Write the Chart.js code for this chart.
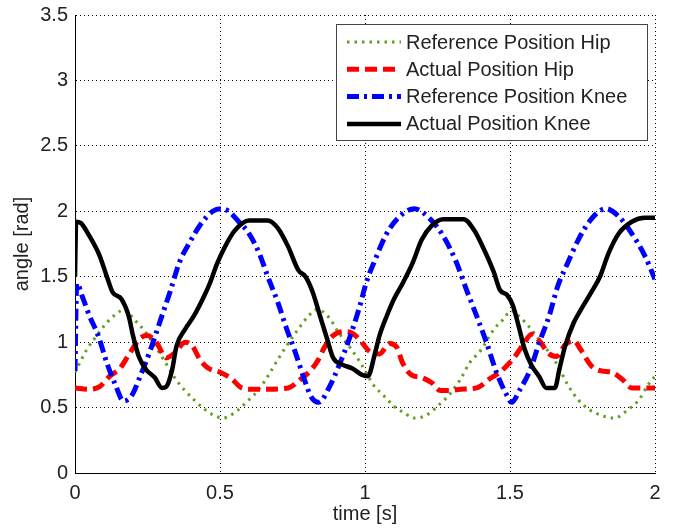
<!DOCTYPE html>
<html>
<head>
<meta charset="utf-8">
<script src="https://cdn.jsdelivr.net/npm/chart.js@4/dist/chart.umd.min.js"></script>
<style>
  html, body { margin: 0; padding: 0; background: #fff; }
  #wrap { width: 673px; height: 529px; }
</style>
</head>
<body>
<div id="wrap"><canvas id="chart-angles"></canvas></div>
<script>
// values
const xTicks = [0, 0.5, 1, 1.5, 2];
const yTicks = [0, 0.5, 1, 1.5, 2, 2.5, 3, 3.5];

const seriesNames = ['Reference Position Hip', 'Actual Position Hip', 'Reference Position Knee', 'Actual Position Knee'];

const tRefHip = [0, 0.04, 0.075, 0.11, 0.145, 0.17, 0.205, 0.235, 0.27, 0.305, 0.34, 0.375, 0.41, 0.445, 0.48, 0.51, 0.55, 0.6, 0.635, 0.665, 0.7, 0.735, 0.77, 0.805, 0.835, 0.875, 0.91, 0.945, 0.985, 1.03, 1.065, 1.1, 1.135, 1.17, 1.21, 1.26, 1.295, 1.33, 1.36, 1.4, 1.445, 1.475, 1.505, 1.53, 1.565, 1.6, 1.635, 1.665, 1.7, 1.735, 1.77, 1.815, 1.86, 1.91, 1.945, 1.975, 2.0];
const refHip = [0.77, 0.94, 1.05, 1.15, 1.22, 1.25, 1.17, 1.10, 0.99, 0.87, 0.74, 0.64, 0.56, 0.49, 0.44, 0.42, 0.46, 0.56, 0.64, 0.74, 0.87, 0.99, 1.10, 1.20, 1.25, 1.19, 1.07, 0.97, 0.84, 0.67, 0.59, 0.51, 0.46, 0.42, 0.44, 0.53, 0.61, 0.72, 0.84, 0.94, 1.10, 1.17, 1.24, 1.20, 1.12, 1.02, 0.92, 0.82, 0.67, 0.56, 0.49, 0.44, 0.42, 0.49, 0.56, 0.67, 0.74];

const tActHip = [0, 0.05, 0.085, 0.12, 0.155, 0.19, 0.225, 0.25, 0.28, 0.315, 0.345, 0.38, 0.405, 0.43, 0.46, 0.5, 0.54, 0.575, 0.61, 0.665, 0.735, 0.78, 0.815, 0.84, 0.86, 0.89, 0.925, 0.955, 0.985, 1.015, 1.05, 1.085, 1.11, 1.13, 1.16, 1.195, 1.23, 1.26, 1.29, 1.33, 1.385, 1.43, 1.465, 1.51, 1.545, 1.575, 1.605, 1.63, 1.66, 1.69, 1.72, 1.745, 1.78, 1.815, 1.85, 1.885, 1.92, 1.965, 2.0];
const actHip = [0.65, 0.64, 0.66, 0.74, 0.80, 0.92, 1.03, 1.05, 1.00, 0.88, 0.92, 1.00, 0.97, 0.87, 0.80, 0.77, 0.72, 0.65, 0.64, 0.64, 0.65, 0.72, 0.79, 0.87, 0.96, 1.05, 1.08, 1.07, 1.01, 0.93, 0.91, 0.99, 0.96, 0.84, 0.75, 0.73, 0.69, 0.63, 0.63, 0.64, 0.65, 0.72, 0.77, 0.87, 0.98, 1.06, 1.00, 0.92, 0.89, 0.98, 1.01, 0.94, 0.82, 0.78, 0.77, 0.72, 0.65, 0.65, 0.65];

const tRefKnee = [0, 0.006, 0.025, 0.05, 0.08, 0.11, 0.14, 0.167, 0.195, 0.225, 0.26, 0.295, 0.33, 0.36, 0.395, 0.43, 0.475, 0.505, 0.53, 0.565, 0.6, 0.635, 0.665, 0.7, 0.73, 0.76, 0.79, 0.815, 0.84, 0.88, 0.91, 0.945, 0.98, 1.005, 1.035, 1.07, 1.11, 1.17, 1.225, 1.27, 1.315, 1.35, 1.385, 1.42, 1.455, 1.49, 1.505, 1.535, 1.57, 1.6, 1.635, 1.665, 1.7, 1.735, 1.78, 1.83, 1.875, 1.92, 1.965, 2.0];
const refKnee = [0.78, 1.45, 1.35, 1.20, 1.05, 0.84, 0.67, 0.55, 0.59, 0.74, 0.94, 1.17, 1.40, 1.61, 1.76, 1.89, 2.00, 2.02, 2.00, 1.92, 1.83, 1.68, 1.50, 1.30, 1.10, 0.92, 0.72, 0.58, 0.54, 0.67, 0.82, 1.02, 1.26, 1.46, 1.63, 1.81, 1.94, 2.02, 1.94, 1.81, 1.61, 1.40, 1.20, 0.99, 0.76, 0.59, 0.54, 0.64, 0.79, 0.99, 1.20, 1.43, 1.61, 1.78, 1.94, 2.02, 1.96, 1.83, 1.66, 1.48];

const tActKnee = [0, 0.004, 0.02, 0.05, 0.085, 0.11, 0.13, 0.16, 0.185, 0.2, 0.22, 0.245, 0.275, 0.3, 0.315, 0.335, 0.35, 0.38, 0.41, 0.445, 0.465, 0.49, 0.515, 0.55, 0.6, 0.665, 0.7, 0.735, 0.77, 0.795, 0.82, 0.845, 0.87, 0.89, 0.92, 0.955, 0.99, 1.01, 1.035, 1.05, 1.075, 1.1, 1.13, 1.165, 1.195, 1.23, 1.27, 1.34, 1.375, 1.41, 1.445, 1.465, 1.49, 1.51, 1.53, 1.55, 1.575, 1.6, 1.625, 1.655, 1.67, 1.69, 1.72, 1.745, 1.78, 1.81, 1.84, 1.875, 1.92, 1.965, 2.0];
const actKnee = [1.5, 1.92, 1.91, 1.81, 1.66, 1.50, 1.38, 1.33, 1.20, 1.05, 0.89, 0.79, 0.73, 0.65, 0.66, 0.79, 0.97, 1.10, 1.20, 1.35, 1.45, 1.60, 1.72, 1.85, 1.93, 1.93, 1.87, 1.73, 1.55, 1.50, 1.38, 1.20, 1.02, 0.88, 0.83, 0.80, 0.75, 0.74, 0.92, 1.05, 1.20, 1.33, 1.45, 1.61, 1.78, 1.89, 1.94, 1.94, 1.86, 1.71, 1.53, 1.40, 1.36, 1.28, 1.12, 0.95, 0.82, 0.74, 0.65, 0.65, 0.79, 0.97, 1.15, 1.25, 1.38, 1.50, 1.68, 1.83, 1.92, 1.95, 1.95];

const toPoints = (ts, vs) => ts.map((t, i) => ({ x: t, y: vs[i] }));

const fontFamily = '"Liberation Sans", Arial, Helvetica, sans-serif';
const textColor = '#222';

// legend drawn inside the plot like the matlab one
const boxLegend = {
  id: 'boxLegend',
  afterDraw(chart) {
    const ctx = chart.ctx;
    const area = chart.chartArea;
    const w = 311, h = 116;
    const x0 = area.right - 8 - w;
    const y0 = area.top + 9;
    ctx.save();
    ctx.fillStyle = '#fff';
    ctx.fillRect(x0, y0, w, h);
    ctx.strokeStyle = '#444';
    ctx.lineWidth = 1;
    ctx.setLineDash([]);
    ctx.strokeRect(x0 + 0.5, y0 + 0.5, w, h);
    ctx.font = '20px ' + fontFamily;
    ctx.textBaseline = 'middle';
    chart.data.datasets.forEach((ds, i) => {
      const y = y0 + 18 + i * 27.3;
      ctx.beginPath();
      ctx.strokeStyle = ds.borderColor;
      ctx.lineWidth = ds.borderWidth;
      ctx.setLineDash(ds.borderDash || []);
      ctx.moveTo(x0 + 11, y);
      ctx.lineTo(x0 + 65, y);
      ctx.stroke();
      ctx.setLineDash([]);
      ctx.fillStyle = textColor;
      ctx.fillText(ds.label, x0 + 70, y + 1);
    });
    ctx.restore();
  }
};

const ctx = document.getElementById('chart-angles').getContext('2d');
const myChart = new Chart(ctx, {
  type: 'line',
  data: {
    datasets: [
      {
        label: seriesNames[0],
        data: toPoints(tRefHip, refHip),
        borderColor: '#62a01e',
        borderWidth: 3,
        borderDash: [2.5, 5],
        order: 4
      },
      {
        label: seriesNames[1],
        data: toPoints(tActHip, actHip),
        borderColor: '#ff0000',
        borderWidth: 5,
        borderDash: [12, 6],
        order: 3
      },
      {
        label: seriesNames[2],
        data: toPoints(tRefKnee, refKnee),
        borderColor: '#0000ff',
        borderWidth: 5,
        borderDash: [12, 5, 3, 5],
        order: 2
      },
      {
        label: seriesNames[3],
        data: toPoints(tActKnee, actKnee),
        borderColor: '#000000',
        borderWidth: 4.5,
        order: 1
      }
    ]
  },
  options: {
    responsive: true,
    maintainAspectRatio: false,
    animation: false,
    layout: { padding: { top: 15, right: 18, left: 0, bottom: 0 } },
    elements: {
      point: { radius: 0 },
      line: { cubicInterpolationMode: 'monotone', borderCapStyle: 'butt', borderJoinStyle: 'round' }
    },
    plugins: {
      legend: { display: false },
      tooltip: { enabled: false }
    },
    scales: {
      x: {
        type: 'linear',
        min: 0,
        max: 2,
        afterBuildTicks: (scale) => { scale.ticks = xTicks.map(v => ({ value: v })); },
        afterFit: (scale) => { scale.height = 56; },
        ticks: { color: textColor, font: { family: fontFamily, size: 20 }, padding: 8, maxRotation: 0, callback: (v) => String(v) },
        grid: { color: '#000', lineWidth: 1, drawTicks: false },
        border: { display: true, color: '#000', width: 1, dash: [1, 3] },
        title: { display: true, text: 'time [s]', color: textColor, font: { family: fontFamily, size: 20 }, padding: { top: 0, bottom: 3 } }
      },
      y: {
        min: 0,
        max: 3.5,
        afterBuildTicks: (scale) => { scale.ticks = yTicks.map(v => ({ value: v })); },
        afterFit: (scale) => {
          scale.width = 75;
          // let the top label stick out so the plot starts high like the original
          scale.paddingTop = 5;
          scale.paddingBottom = 5;
        },
        ticks: { color: textColor, font: { family: fontFamily, size: 20 }, padding: 7, callback: (v) => String(v) },
        grid: { color: '#000', lineWidth: 1, drawTicks: false },
        border: { display: true, color: '#000', width: 1, dash: [1, 3] },
        title: { display: true, text: 'angle [rad]', color: textColor, font: { family: fontFamily, size: 20 }, padding: { top: 10, bottom: 0 } }
      }
    }
  },
  plugins: [boxLegend]
});
</script>
</body>
</html>
